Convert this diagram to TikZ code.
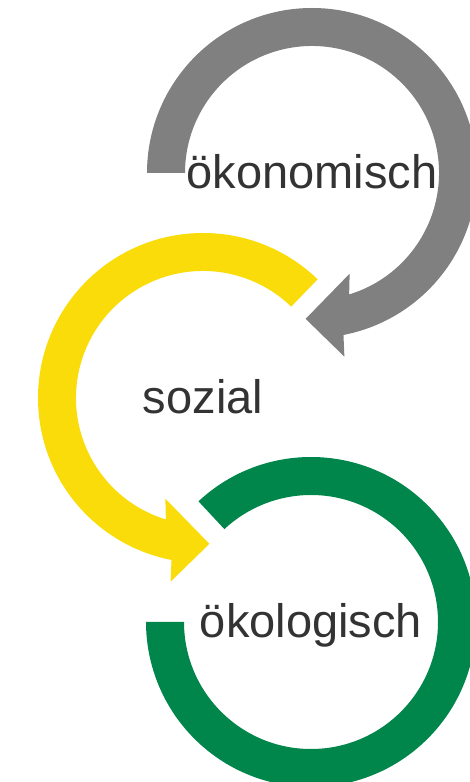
\documentclass[tikz,border=0pt]{standalone}
\usepackage{fontspec}
\setmainfont{Liberation Sans}
\usetikzlibrary{positioning,calc}

\definecolor{ringgrau}{HTML}{808080}
\definecolor{ringgelb}{HTML}{F9DC0A}
\definecolor{ringgruen}{HTML}{00854A}
\definecolor{textgrau}{HTML}{333333}

\tikzset{
  ringlabel/.style={text=textgrau,font=\fontsize{47}{56}\selectfont,anchor=base,inner sep=0pt},
}

\begin{document}
\begin{tikzpicture}[x=1pt,y=1pt]
\path[use as bounding box] (0,0) rectangle (470,782);
\clip (0,0) rectangle (470,782);

% Centres of the three rings
\coordinate (cgrau) at (312,609);
\coordinate (cgelb) at (203,384);
\coordinate (cgruen) at (311,160);

% oekonomisch (grey, clockwise)
\fill[ringgrau,shift={(cgrau)}] (180:165) arc[start angle=180,end angle=-79,radius=165]
  -- (-80:186.5) -- (-92.5:146) -- (-69.5:107.5) -- (-73:127)
  arc[start angle=-73,end angle=180,radius=127] -- cycle;
\node[ringlabel] (oekonom) at ([yshift=-16]cgrau) {ökonomisch};

% sozial (yellow, counter-clockwise)
\fill[ringgelb,shift={(cgelb)}] (46:165) arc[start angle=46,end angle=259,radius=165]
  -- (260:186.5) -- (272.5:146) -- (249.5:107.5) -- (253:127)
  arc[start angle=253,end angle=46,radius=127] -- cycle;
\node[ringlabel] (sozial) at ([yshift=-16]cgelb) {sozial};

% oekologisch (green, no tip)
\fill[ringgruen,shift={(cgruen)}] (133:165) arc[start angle=133,end angle=-180,radius=165]
  -- (180:127) arc[start angle=-180,end angle=133,radius=127] -- cycle;
\node[ringlabel] (oekolog) at ([yshift=-16]cgruen) {ökologisch};
\end{tikzpicture}
\end{document}
